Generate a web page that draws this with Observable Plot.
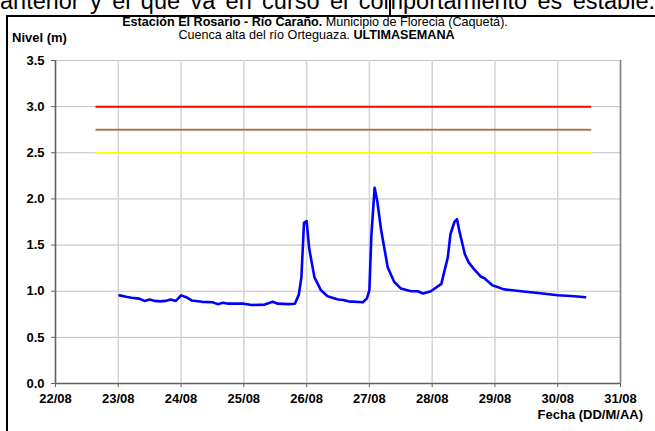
<!DOCTYPE html>
<html>
<head>
<meta charset="utf-8">
<script src="https://cdn.jsdelivr.net/npm/d3@7"></script>
<script src="https://cdn.jsdelivr.net/npm/@observablehq/plot@0.6"></script>
<style>
  html, body { margin: 0; padding: 0; background: #fff; }
  body { width: 655px; height: 431px; overflow: hidden; position: relative; font-family: "Liberation Sans", Arial, sans-serif; }
  #top { position: absolute; left: 0; top: -10px; width: 655px; font-size: 23.5px; line-height: 23px; white-space: nowrap; text-align: justify; text-align-last: justify; }
  #bar { position: absolute; left: 389px; top: 0; width: 2px; height: 17px; background: #000; }
  #frameTop { position: absolute; left: 6px; top: 15px; width: 649px; height: 2px; background: #000; }
  #frameLeft { position: absolute; left: 6px; top: 15px; width: 2px; height: 420px; background: #000; }
  #chart { position: absolute; left: 0; top: 0; }
  .t { position: absolute; font-size: 13px; line-height: 13px; white-space: nowrap; color: #000; }
  .tt { font-size: 12.6px; line-height: 12.6px; }
</style>
</head>
<body>
<div id="top">anterior y el que va en curso el comportamiento es estable.</div>
<div id="bar"></div>
<div id="chart"></div>
<div id="frameTop"></div>
<div id="frameLeft"></div>
<div class="t tt" style="left:0;width:630px;text-align:center;top:16px;"><b>Estación El Rosario - Río Caraño.</b> Municipio de Florecia (Caquetá).</div>
<div class="t tt" style="left:0;width:633px;text-align:center;top:29px;">Cuenca alta del río Orteguaza. <b>ULTIMASEMANA</b></div>
<div class="t" style="left:12px;top:31px;font-weight:bold;">Nivel (m)</div>
<div class="t" style="right:12px;top:408px;font-weight:bold;">Fecha (DD/M/AA)</div>
<script>
// ---- data ----
const times = [
  "2008-08-23T00:30","2008-08-23T03:00","2008-08-23T05:00","2008-08-23T08:00","2008-08-23T10:00",
  "2008-08-23T12:00","2008-08-23T14:00","2008-08-23T16:00","2008-08-23T18:00","2008-08-23T20:00",
  "2008-08-23T22:00","2008-08-24T00:00","2008-08-24T02:00","2008-08-24T04:00","2008-08-24T08:00",
  "2008-08-24T12:00","2008-08-24T14:00","2008-08-24T16:00","2008-08-24T18:00","2008-08-24T21:00",
  "2008-08-25T00:00","2008-08-25T03:00","2008-08-25T08:00","2008-08-25T11:00","2008-08-25T13:00",
  "2008-08-25T17:00","2008-08-25T19:30","2008-08-25T21:00","2008-08-25T22:00","2008-08-25T23:00",
  "2008-08-26T00:00","2008-08-26T01:00","2008-08-26T03:00","2008-08-26T05:30","2008-08-26T08:00",
  "2008-08-26T12:00","2008-08-26T14:00","2008-08-26T16:00","2008-08-26T21:30","2008-08-26T23:00",
  "2008-08-27T00:00","2008-08-27T00:45","2008-08-27T02:00","2008-08-27T03:00","2008-08-27T04:30",
  "2008-08-27T07:00","2008-08-27T09:30","2008-08-27T12:00","2008-08-27T16:00","2008-08-27T18:30",
  "2008-08-27T20:30","2008-08-27T23:30","2008-08-28T03:30","2008-08-28T06:00","2008-08-28T07:00",
  "2008-08-28T08:30","2008-08-28T09:30","2008-08-28T10:30","2008-08-28T12:30","2008-08-28T14:00",
  "2008-08-28T16:00","2008-08-28T18:30","2008-08-28T20:00","2008-08-28T23:00","2008-08-29T03:30",
  "2008-08-29T10:00","2008-08-29T16:30","2008-08-30T00:00","2008-08-30T06:30","2008-08-30T10:30"
];
const levels = [
  0.955,0.94,0.93,0.92,0.895,
  0.91,0.895,0.89,0.895,0.91,
  0.895,0.955,0.935,0.90,0.885,
  0.88,0.86,0.875,0.865,0.865,
  0.865,0.85,0.855,0.885,0.865,
  0.86,0.865,0.96,1.15,1.74,
  1.76,1.46,1.15,1.01,0.945,
  0.91,0.905,0.89,0.88,0.92,
  1.01,1.60,2.12,1.98,1.66,
  1.26,1.10,1.03,1.00,1.00,
  0.975,1.00,1.08,1.37,1.62,
  1.75,1.78,1.64,1.40,1.31,
  1.24,1.16,1.14,1.065,1.02,
  1.00,0.98,0.957,0.946,0.935
];
const thresholdLevels = [3.0, 2.75, 2.5];
const thresholdColors = ["#ff0000", "#a57a52", "#ffff00"];
const thresholdStart = "2008-08-22T15:30";
const thresholdEnd = "2008-08-30T13:00";
const dayTicks = ["2008-08-22","2008-08-23","2008-08-24","2008-08-25","2008-08-26",
                  "2008-08-27","2008-08-28","2008-08-29","2008-08-30","2008-08-31"];
const yTicks = [0, 0.5, 1.0, 1.5, 2.0, 2.5, 3.0, 3.5];

// ---- build tables ----
const toDate = s => new Date(s.length === 10 ? s + "T00:00Z" : s + "Z");
const series = times.map((t, i) => ({date: toDate(t), level: levels[i]}));
const thresholds = thresholdLevels.map((v, i) => ({level: v, color: thresholdColors[i], start: toDate(thresholdStart), end: toDate(thresholdEnd)}));
const days = dayTicks.map(toDate);
const xStart = days[0], xEnd = days[days.length - 1];

const chart = Plot.plot({
  width: 655,
  height: 431,
  marginLeft: 55,
  marginRight: 35,
  marginTop: 60,
  marginBottom: 48,
  style: {fontFamily: "'Liberation Sans', Arial, sans-serif", background: "transparent", color: "#000", overflow: "visible"},
  x: {type: "utc", domain: [xStart, xEnd], axis: null},
  y: {domain: [0, 3.5], axis: null},
  marks: [
    Plot.gridY(yTicks, {stroke: "#c0c0c0", strokeOpacity: 1, strokeWidth: 1}),
    Plot.gridX(days, {stroke: "#d4d4d4", strokeOpacity: 1, strokeWidth: 1.5}),
    Plot.ruleX([xEnd], {stroke: "#808080", strokeWidth: 1.5}),
    Plot.ruleY(thresholds, {y: "level", x1: "start", x2: "end", stroke: "color", strokeWidth: 2}),
    Plot.line(series, {x: "date", y: "level", stroke: "#0000ff", strokeWidth: 2.6, curve: "linear"}),
    Plot.ruleX([xStart], {stroke: "#606060", strokeWidth: 1.5}),
    Plot.ruleY([0], {stroke: "#606060", strokeWidth: 1.5}),
    Plot.axisY(yTicks, {tickSize: 4, tickPadding: 7, tickFormat: d3.format(".1f"), fontSize: 13, fontWeight: "bold", stroke: "#606060", fill: "#000", label: null}),
    Plot.axisX(days, {tickSize: 4, tickPadding: 6, tickFormat: d3.utcFormat("%d/%m"), fontSize: 13, fontWeight: "bold", stroke: "#606060", fill: "#000", label: null})
  ]
});
document.getElementById("chart").appendChild(chart);
</script>
</body>
</html>
